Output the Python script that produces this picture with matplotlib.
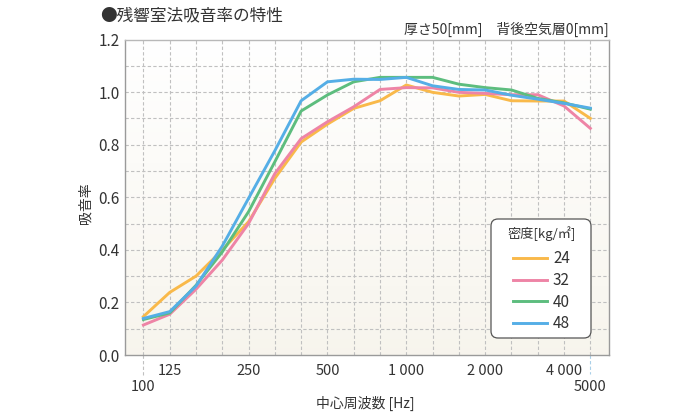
import matplotlib
matplotlib.use("Agg")
import matplotlib.pyplot as plt
from matplotlib.patches import FancyBboxPatch
from matplotlib.transforms import IdentityTransform
import numpy as np

plt.rcParams['font.family'] = ['Noto Sans CJK JP', 'DejaVu Sans']

freqs = [100, 125, 160, 200, 250, 315, 400, 500, 630, 800, 1000, 1250, 1600, 2000, 2500, 3150, 4000, 5000]
d24 = [0.146, 0.238, 0.300, 0.399, 0.507, 0.672, 0.810, 0.878, 0.938, 0.967, 1.027, 0.999, 0.985, 0.991, 0.967, 0.966, 0.966, 0.900]
d32 = [0.114, 0.155, 0.250, 0.361, 0.500, 0.690, 0.823, 0.887, 0.944, 1.010, 1.017, 1.016, 0.999, 0.995, 0.990, 0.990, 0.947, 0.862]
d40 = [0.135, 0.160, 0.265, 0.392, 0.545, 0.735, 0.928, 0.989, 1.039, 1.056, 1.056, 1.056, 1.030, 1.017, 1.008, 0.976, 0.959, 0.935]
d48 = [0.139, 0.165, 0.262, 0.414, 0.596, 0.777, 0.967, 1.039, 1.049, 1.048, 1.056, 1.024, 1.010, 1.008, 0.988, 0.973, 0.957, 0.939]
series_labels = ['24', '32', '40', '48']
series_colors = ['#f9b94a', '#ee84a6', '#5dbd7e', '#55aee6']
tick_labels_top = {125: '125', 250: '250', 500: '500', 1000: '1 000', 2000: '2 000', 4000: '4 000'}
tick_labels_bottom = {100: '100', 5000: '5000'}
title = '●残響室法吸音率の特性'
subtitle = '厚さ50[mm]　背後空気層0[mm]'
xlabel = '中心周波数 [Hz]'
ylabel = '吸音率'
legend_title = '密度[kg/㎡]'

fig = plt.figure(figsize=(7, 4.2), dpi=100)
ax = fig.add_axes([125/700, 65/420, 484/700, 315.5/420])
x = np.arange(len(freqs))
ax.set_xlim(-0.7, len(freqs) - 1 + 0.71)
ax.set_ylim(0, 1.2)

# background gradient
grad = np.linspace(0, 1, 256).reshape(-1, 1)
top_c = np.array([1.0, 1.0, 1.0])
bot_c = np.array([0.970, 0.960, 0.930])
img = top_c[None, None, :] * (1 - grad[:, :, None]) + bot_c[None, None, :] * grad[:, :, None]
ax.imshow(img, extent=[0, 1, 0, 1], transform=ax.transAxes, aspect='auto', zorder=0)

# grid
for xi in x:
    ax.axvline(xi, color='#c0c0c0', lw=0.8, ls=(0, (3, 2)), zorder=1)
for yv in np.arange(0.1, 1.2, 0.1):
    ax.axhline(yv, color='#c0c0c0', lw=0.8, ls=(0, (3, 2)), zorder=1)

lines = []
for data, lab, col in zip([d24, d32, d40, d48], series_labels, series_colors):
    ln, = ax.plot(x, data, color=col, lw=2.1, label=lab, zorder=3, solid_joinstyle='round')
    lines.append(ln)

for s in ['left', 'bottom', 'right', 'top']:
    ax.spines[s].set_color('#9a9a9a')
    ax.spines[s].set_linewidth(1.0)
ax.spines['top'].set_color('#b8b8b8')

ax.set_yticks(np.arange(0, 1.21, 0.2))
ax.set_yticklabels([f'{v:.1f}' for v in np.arange(0, 1.21, 0.2)], fontsize=11, color='#333333')
ax.tick_params(axis='y', length=0, pad=4)
ax.set_xticks([])

for f, t in tick_labels_top.items():
    i = freqs.index(f)
    ax.text(i, -0.027, t, ha='center', va='top', fontsize=10.5, color='#333333',
            transform=ax.get_xaxis_transform())
for f, t in tick_labels_bottom.items():
    i = freqs.index(f)
    ax.text(i, -0.08, t, ha='center', va='top', fontsize=10.5, color='#333333',
            transform=ax.get_xaxis_transform())

# small extensions below axis at 100 and 5000
ax.plot([0, 0], [0, -0.07], color='#c0c0c0', lw=0.8, ls=(0, (3, 2)),
        transform=ax.get_xaxis_transform(), clip_on=False)
ax.plot([len(freqs) - 1] * 2, [0, -0.06], color='#a9cfe8', lw=0.8, ls=(0, (3, 2)),
        transform=ax.get_xaxis_transform(), clip_on=False)

fig.text(365/700, 1 - 403/420, xlabel, ha='center', va='center', fontsize=10, color='#333333')
fig.text(86/700, 1 - 203/420, ylabel, ha='center', va='center', fontsize=10, color='#333333', rotation=90)
fig.text(100/700, 1 - 16/420, title, ha='left', va='center', fontsize=12, color='#333333')
fig.text(609/700, 1 - 29/420, subtitle, ha='right', va='center', fontsize=10, color='#333333')

# legend box (pixel coordinates)
box = FancyBboxPatch((491, 420 - 338), 100, 119, boxstyle='round,pad=0,rounding_size=7',
                     transform=IdentityTransform(), facecolor='white', edgecolor='#555555',
                     linewidth=0.9, zorder=4, clip_on=False)
ax.add_artist(box)

leg = ax.legend(handles=lines, title=legend_title, loc='upper left',
                bbox_to_anchor=((507.5 - 125) / 484, (355 - 226) / 315.5),
                borderaxespad=0, borderpad=0, fontsize=11, title_fontsize=9.5, frameon=False,
                handlelength=2.2, handletextpad=0.4, labelspacing=0.3)
try:
    leg._legend_box.sep = leg._legend_box.sep + 3.6
except Exception:
    pass
for t in leg.get_texts():
    t.set_color('#333333')
leg.get_title().set_color('#333333')
leg.set_zorder(5)

fig.savefig('out.png', dpi=100)
